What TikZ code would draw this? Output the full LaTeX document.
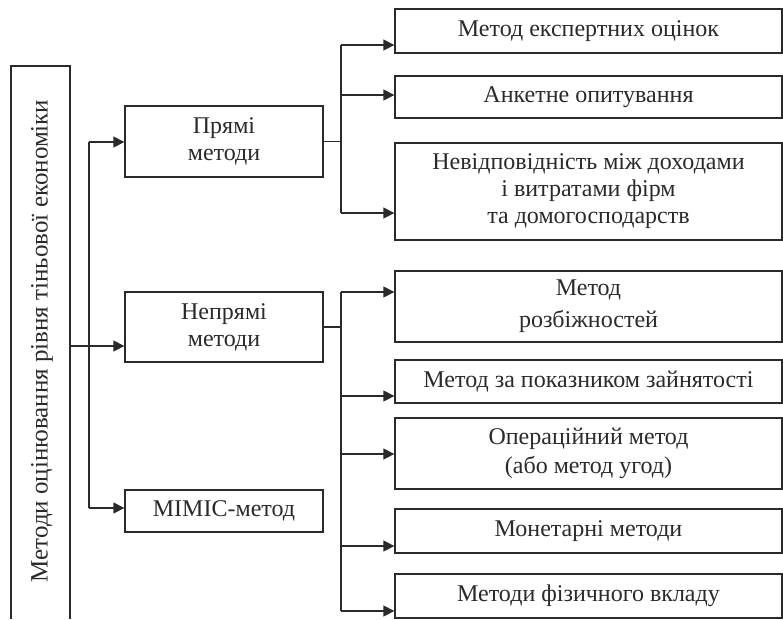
\documentclass[tikz,border=0pt]{standalone}
\usepackage{fontspec}
\setmainfont{Liberation Serif}
\usetikzlibrary{arrows.meta}
\definecolor{ink}{HTML}{2A2A2A}
\begin{document}
\begin{tikzpicture}[x=1pt,y=-1pt,
  bx/.style={draw=ink, line width=1.3pt, inner sep=0pt, align=center, text=ink,
    font=\fontsize{24}{27}\selectfont},
  ln/.style={draw=ink, line width=1.3pt},
  arr/.style={ln, -{Triangle[length=11pt,width=11pt]}}]
\useasboundingbox (0,0) rectangle (783,619);
% left vertical box (open at the bottom)
\draw[ln] (11,619) -- (11,66) -- (70,66) -- (70,619);
\node[text=ink, font=\fontsize{25}{28}\selectfont, rotate=90] (root) at (42,341) {Методи оцінювання рівня тіньової економіки};
\coordinate (rootout) at (70,346);
% level 1
\node[bx, minimum width=198pt, minimum height=71pt] (p) at (224,141.5) {Прямі\\методи};
\node[bx, minimum width=198pt, minimum height=70pt] (n) at (224,327) {Непрямі\\методи};
\node[bx, minimum width=198pt, minimum height=42pt] (m) at (224,511) {MIMIC-метод};
% right boxes
\node[bx, minimum width=387pt, minimum height=44pt] (e1) at (588.5,31) {Метод експертних оцінок};
\node[bx, minimum width=387pt, minimum height=42pt] (e2) at (588.5,97) {Анкетне опитування};
\node[bx, minimum width=387pt, minimum height=97pt] (e3) at (588.5,191.5) {Невідповідність між доходами\\і витратами фірм\\та домогосподарств};
\node[bx, minimum width=387pt, minimum height=71pt, font=\fontsize{24}{32}\selectfont] (r1) at (588.5,306.5) {Метод\\розбіжностей};
\node[bx, minimum width=387pt, minimum height=43pt] (r2) at (588.5,381.5) {Метод за показником зайнятості};
\node[bx, minimum width=387pt, minimum height=71pt, font=\fontsize{24}{29}\selectfont] (r3) at (588.5,453.5) {Операційний метод\\(або метод угод)};
\node[bx, minimum width=387pt, minimum height=44pt] (r4) at (588.5,531) {Монетарні методи};
\node[bx, minimum width=387pt, minimum height=44pt] (r5) at (588.5,596) {Методи фізичного вкладу};
% trunk from root
\coordinate (t1) at (89,142);
\coordinate (t3) at (89,508);
\draw[arr] (rootout) -- (rootout -| n.west);
\draw[ln] (t3) -- (t1);
\draw[arr] (t1) -- (t1 -| p.west);
\draw[arr] (t3) -- (t3 -| m.west);
% branches of p
\coordinate (pa) at (341,45);
\coordinate (pb) at (341,95);
\coordinate (pc) at (341,213);
\draw[ln] (p.east) -- (p.east -| pa);
\draw[ln] (pa) -- (pc);
\draw[arr] (pa) -- (pa -| e1.west);
\draw[arr] (pb) -- (pb -| e2.west);
\draw[arr] (pc) -- (pc -| e3.west);
% branches of n
\coordinate (na) at (341,292);
\coordinate (nb) at (341,396);
\coordinate (nc) at (341,454);
\coordinate (nd) at (341,546);
\coordinate (ne) at (341,611);
\draw[ln] (n.east) -- (n.east -| na);
\draw[ln] (na) -- (ne);
\draw[arr] (na) -- (na -| r1.west);
\draw[arr] (nb) -- (nb -| r2.west);
\draw[arr] (nc) -- (nc -| r3.west);
\draw[arr] (nd) -- (nd -| r4.west);
\draw[arr] (ne) -- (ne -| r5.west);
\end{tikzpicture}
\end{document}
